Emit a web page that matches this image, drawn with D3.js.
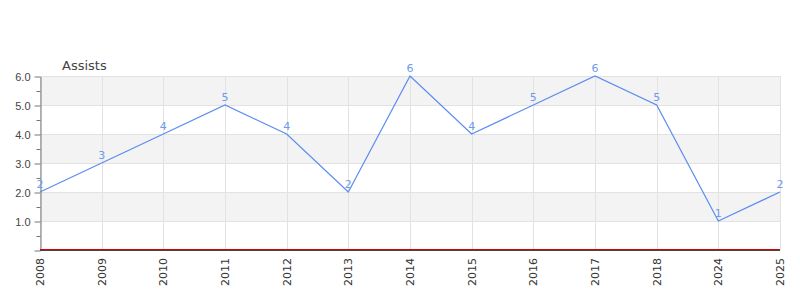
<!DOCTYPE html>
<html>
<head>
<meta charset="utf-8">
<script src="https://cdn.jsdelivr.net/npm/d3@7"></script>
<style>
  body { margin: 0; background: #fff; }
  svg { display: block; font-family: "DejaVu Sans", sans-serif; }
</style>
</head>
<body>
<svg id="chart"></svg>
<script>
let seasons = ["2008", "2009", "2010", "2011", "2012", "2013", "2014", "2015", "2016", "2017", "2018", "2024", "2025"];
let assists = [2, 3, 4, 5, 4, 2, 6, 4, 5, 6, 5, 1, 2];
let yTicks = [1, 2, 3, 4, 5, 6];

let width = 800, height = 300;
let plotLeft = 40, plotRight = 780, plotTop = 76, plotBottom = 250;

let svg = d3.select("#chart").attr("width", width).attr("height", height);

let x = d3.scalePoint().domain(seasons).range([plotLeft, plotRight]);
let y = d3.scaleLinear().domain([0, 6]).range([plotBottom, plotTop]);

// полосы фона
for (let i = 1; i < 6; i += 2) {
    svg.append("rect")
        .attr("x", plotLeft).attr("width", plotRight - plotLeft)
        .attr("y", y(i + 1)).attr("height", y(i) - y(i + 1))
        .attr("fill", "#f3f3f3");
}

// сетка
svg.append("g").selectAll("line").data(yTicks).enter().append("line")
    .attr("x1", plotLeft).attr("x2", plotRight)
    .attr("y1", d => y(d) + 0.5).attr("y2", d => y(d) + 0.5)
    .attr("stroke", "#e2e2e2");
svg.append("g").selectAll("line").data(seasons).enter().append("line")
    .attr("x1", d => Math.round(x(d)) + 0.5).attr("x2", d => Math.round(x(d)) + 0.5)
    .attr("y1", plotTop).attr("y2", plotBottom)
    .attr("stroke", "#e2e2e2");

// ось Y
let axisY = d3.axisLeft(y).tickValues(d3.range(0, 6.01, 0.5))
    .tickSize(0).tickFormat("");
let gy = svg.append("g").attr("transform", `translate(${plotLeft + 0.5},0.5)`).call(axisY);
gy.select(".domain").attr("stroke", "#777");
gy.selectAll(".tick line").attr("stroke", "#777")
    .attr("x2", d => (d % 1 === 0 ? -6 : -4));
gy.selectAll(".tick").filter(d => d % 1 === 0 && d > 0).append("text")
    .attr("x", -10).attr("dy", "0.35em")
    .attr("text-anchor", "end")
    .attr("fill", "#444").style("font-size", "11px")
    .text(d => d3.format(".1f")(d));

// ось X
svg.append("line").attr("x1", plotLeft).attr("x2", plotRight)
    .attr("y1", plotBottom - 0.5).attr("y2", plotBottom - 0.5).attr("stroke", "#d00");
svg.append("line").attr("x1", plotLeft).attr("x2", plotRight)
    .attr("y1", plotBottom + 0.5).attr("y2", plotBottom + 0.5).attr("stroke", "#444");

svg.append("g").selectAll("text").data(seasons).enter().append("text")
    .attr("transform", d => `translate(${x(d) + 4},${plotBottom + 8}) rotate(-90)`)
    .attr("text-anchor", "end")
    .attr("fill", "#333").style("font-size", "11px")
    .text(d => d);

// линия
let line = d3.line().x((d, i) => x(seasons[i])).y(d => y(d));
svg.append("path").datum(assists)
    .attr("d", line)
    .attr("fill", "none")
    .attr("stroke", "#5b8def")
    .attr("stroke-width", 1.2);

// подписи значений
svg.append("g").selectAll("text").data(assists).enter().append("text")
    .attr("x", (d, i) => x(seasons[i]))
    .attr("y", d => y(d) - 4)
    .attr("text-anchor", "middle")
    .attr("fill", "#6f9be8").style("font-size", "11px")
    .text(d => d);

// заголовок
svg.append("text").attr("x", 62).attr("y", 70)
    .attr("fill", "#444").style("font-size", "13px")
    .text("Assists");
</script>
</body>
</html>
